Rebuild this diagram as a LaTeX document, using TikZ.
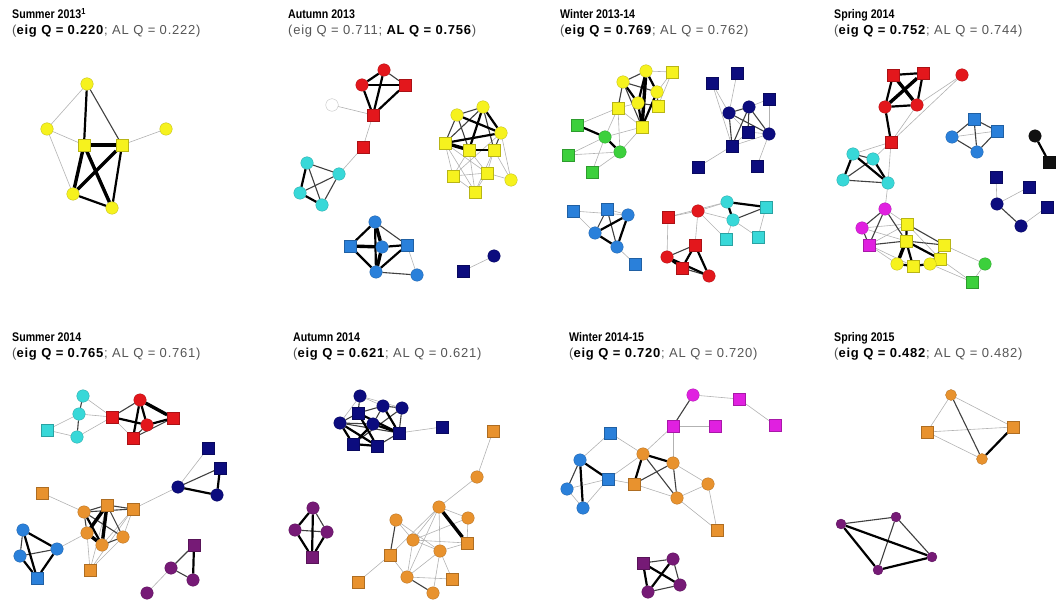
\documentclass[tikz,border=0pt]{standalone}
\usepackage{fontspec}
\setmainfont{Liberation Sans}
\usetikzlibrary{backgrounds}
\definecolor{cY}{HTML}{F6F21E}
\definecolor{cR}{HTML}{E3171C}
\definecolor{cC}{HTML}{38D8D8}
\definecolor{cB}{HTML}{2A80DA}
\definecolor{cN}{HTML}{0C0C7E}
\definecolor{cG}{HTML}{3CD03C}
\definecolor{cM}{HTML}{E020E0}
\definecolor{cO}{HTML}{E8922E}
\definecolor{cP}{HTML}{761A76}
\definecolor{cK}{HTML}{111111}
\definecolor{cW}{HTML}{FFFFFF}
\definecolor{tg}{HTML}{555555}
\tikzset{
 nd/.style={inner sep=0pt, minimum size=12.5pt, draw=#1!75!black, line width=0.3pt, fill=#1},
 ci/.style={nd=#1, circle},
 sq/.style={nd=#1, rectangle, minimum size=11.5pt},
 w1/.style={line width=0.6pt, draw=gray!60},
 w2/.style={line width=1.1pt, draw=black!75},
 w3/.style={line width=2.2pt, draw=black},
 w4/.style={line width=3.4pt, draw=black},
 ttla/.style={anchor=base west, inner sep=0pt, font=\fontsize{12.5}{14}\selectfont\addfontfeatures{FakeStretch=0.85}\bfseries},
 ttlb/.style={anchor=base west, inner sep=0pt, font=\fontsize{13}{15}\selectfont\addfontfeatures{LetterSpace=6}},
}
\begin{document}
\begin{tikzpicture}[x=1pt,y=-1pt]
\useasboundingbox (0,0) rectangle (1059,601);
% ---------- titles ----------
\node[ttla] (t1) at (12,19) {Summer 2013\textsuperscript{1}};
\node[ttlb] (q1) at (12,35) {{\color{tg}(}\textbf{eig Q = 0.220}{\color{tg}; AL Q = 0.222)}};
\node[ttla] (t2) at (288,19) {Autumn 2013};
\node[ttlb] (q2) at (288,35) {{\color{tg}(eig Q = 0.711; }\textbf{AL Q = 0.756}{\color{tg})}};
\node[ttla] (t3) at (560,19) {Winter 2013-14};
\node[ttlb] (q3) at (560,35) {{\color{tg}(}\textbf{eig Q = 0.769}{\color{tg}; AL Q = 0.762)}};
\node[ttla] (t4) at (834,19) {Spring 2014};
\node[ttlb] (q4) at (834,35) {{\color{tg}(}\textbf{eig Q = 0.752}{\color{tg}; AL Q = 0.744)}};
\node[ttla] (t5) at (12,341) {Summer 2014};
\node[ttlb] (q5) at (12,357) {{\color{tg}(}\textbf{eig Q = 0.765}{\color{tg}; AL Q = 0.761)}};
\node[ttla] (t6) at (293,341) {Autumn 2014};
\node[ttlb] (q6) at (293,357) {{\color{tg}(}\textbf{eig Q = 0.621}{\color{tg}; AL Q = 0.621)}};
\node[ttla] (t7) at (569,341) {Winter 2014-15};
\node[ttlb] (q7) at (569,357) {{\color{tg}(}\textbf{eig Q = 0.720}{\color{tg}; AL Q = 0.720)}};
\node[ttla] (t8) at (834,341) {Spring 2015};
\node[ttlb] (q8) at (834,357) {{\color{tg}(}\textbf{eig Q = 0.482}{\color{tg}; AL Q = 0.482)}};
% ---------- panel 1 ----------
\node[ci=cY] (a1) at (87,84) {};
\node[ci=cY] (a2) at (47,129) {};
\node[ci=cY] (a3) at (166,129) {};
\node[sq=cY] (a4) at (84,145) {};
\node[sq=cY] (a5) at (122,145) {};
\node[ci=cY] (a6) at (73,194) {};
\node[ci=cY] (a7) at (112,208) {};
% ---------- panel 2 ----------
\node[ci=cR] (b1) at (384,70) {};
\node[ci=cR] (b2) at (362,85) {};
\node[sq=cR] (b3) at (405,85) {};
\node[sq=cR] (b4) at (373,115) {};
\node[sq=cR] (b5) at (363,147) {};
\node[ci=cW, draw=gray!60] (bw) at (332,105) {};
\node[ci=cC] (b6) at (307,163) {};
\node[ci=cC] (b7) at (339,174) {};
\node[ci=cC] (b8) at (300,193) {};
\node[ci=cC] (b9) at (322,205) {};
\node[ci=cY] (b10) at (457,115) {};
\node[ci=cY] (b11) at (483,107) {};
\node[ci=cY] (b12) at (501,133) {};
\node[sq=cY] (b13) at (445,143) {};
\node[sq=cY] (b14) at (469,150) {};
\node[sq=cY] (b15) at (494,150) {};
\node[sq=cY] (b16) at (453,176) {};
\node[sq=cY] (b17) at (487,173) {};
\node[ci=cY] (b18) at (511,180) {};
\node[sq=cY] (b19) at (475,192) {};
\node[ci=cB] (b20) at (375,222) {};
\node[sq=cB] (b21) at (350,246) {};
\node[ci=cB] (b22) at (382,247) {};
\node[sq=cB] (b23) at (407,245) {};
\node[ci=cB] (b24) at (376,272) {};
\node[ci=cB] (b25) at (417,275) {};
\node[ci=cN] (b26) at (494,256) {};
\node[sq=cN] (b27) at (463,271) {};
% ---------- panel 3 ----------
\node[ci=cY] (c1) at (646,71) {};
\node[sq=cY] (c2) at (672,72) {};
\node[ci=cY] (c3) at (623,82) {};
\node[ci=cY] (c4) at (657,92) {};
\node[ci=cY] (c5) at (638,103) {};
\node[sq=cY] (c6) at (618,108) {};
\node[sq=cY] (c7) at (658,106) {};
\node[sq=cY] (c8) at (642,127) {};
\node[sq=cG] (c9) at (577,125) {};
\node[ci=cG] (c10) at (605,137) {};
\node[ci=cG] (c11) at (620,152) {};
\node[sq=cG] (c12) at (568,155) {};
\node[sq=cG] (c13) at (592,172) {};
\node[sq=cN] (c14) at (737,73) {};
\node[sq=cN] (c15) at (712,83) {};
\node[sq=cN] (c16) at (769,99) {};
\node[ci=cN] (c17) at (749,107) {};
\node[ci=cN] (c18) at (729,113) {};
\node[sq=cN] (c19) at (748,132) {};
\node[ci=cN] (c20) at (769,134) {};
\node[sq=cN] (c21) at (732,146) {};
\node[sq=cN] (c22) at (698,167) {};
\node[sq=cN] (c23) at (757,166) {};
\node[sq=cB] (c24) at (573,211) {};
\node[sq=cB] (c25) at (607,209) {};
\node[ci=cB] (c26) at (628,215) {};
\node[ci=cB] (c27) at (595,233) {};
\node[ci=cB] (c28) at (617,247) {};
\node[sq=cB] (c29) at (635,264) {};
\node[sq=cR] (c30) at (668,217) {};
\node[ci=cR] (c31) at (698,211) {};
\node[sq=cR] (c32) at (695,245) {};
\node[ci=cR] (c33) at (667,257) {};
\node[sq=cR] (c34) at (682,268) {};
\node[ci=cR] (c35) at (709,276) {};
\node[ci=cC] (c36) at (727,202) {};
\node[sq=cC] (c37) at (766,207) {};
\node[ci=cC] (c38) at (733,220) {};
\node[sq=cC] (c39) at (726,239) {};
\node[sq=cC] (c40) at (758,237) {};
% ---------- panel 4 ----------
\node[sq=cR] (d1) at (893,75) {};
\node[sq=cR] (d2) at (923,73) {};
\node[ci=cR] (d3) at (962,75) {};
\node[ci=cR] (d4) at (885,107) {};
\node[ci=cR] (d5) at (917,105) {};
\node[sq=cR] (d6) at (891,142) {};
\node[sq=cB] (d7) at (974,119) {};
\node[sq=cB] (d8) at (997,131) {};
\node[ci=cB] (d9) at (952,137) {};
\node[ci=cB] (d10) at (977,152) {};
\node[ci=cK] (d11) at (1035,136) {};
\node[sq=cK] (d12) at (1049,162) {};
\node[ci=cC] (d13) at (853,154) {};
\node[ci=cC] (d14) at (873,159) {};
\node[ci=cC] (d15) at (843,180) {};
\node[ci=cC] (d16) at (888,183) {};
\node[sq=cN] (d17) at (996,177) {};
\node[sq=cN] (d18) at (1029,187) {};
\node[ci=cN] (d19) at (997,204) {};
\node[sq=cN] (d20) at (1047,207) {};
\node[ci=cN] (d21) at (1021,226) {};
\node[ci=cM] (d22) at (885,209) {};
\node[ci=cM] (d23) at (862,228) {};
\node[sq=cM] (d24) at (869,245) {};
\node[sq=cY] (d25) at (907,224) {};
\node[sq=cY] (d26) at (906,241) {};
\node[sq=cY] (d27) at (944,245) {};
\node[ci=cY] (d28) at (897,264) {};
\node[sq=cY] (d29) at (913,266) {};
\node[sq=cY] (d30) at (940,259) {};
\node[ci=cY] (d31) at (930,264) {};
\node[ci=cG] (d32) at (985,264) {};
\node[sq=cG] (d33) at (972,282) {};
% ---------- panel 5 ----------
\node[ci=cC] (e1) at (83,396) {};
\node[ci=cC] (e2) at (79,414) {};
\node[sq=cC] (e3) at (47,430) {};
\node[ci=cC] (e4) at (77,437) {};
\node[sq=cR] (e5) at (112,417) {};
\node[ci=cR] (e6) at (140,400) {};
\node[sq=cR] (e7) at (173,418) {};
\node[ci=cR] (e8) at (147,425) {};
\node[sq=cR] (e9) at (133,438) {};
\node[sq=cN] (e10) at (208,448) {};
\node[sq=cN] (e11) at (220,468) {};
\node[ci=cN] (e12) at (178,487) {};
\node[ci=cN] (e13) at (217,495) {};
\node[sq=cO] (e14) at (42,493) {};
\node[ci=cO] (e15) at (84,512) {};
\node[sq=cO] (e16) at (107,505) {};
\node[sq=cO] (e17) at (133,509) {};
\node[ci=cO] (e18) at (87,533) {};
\node[ci=cO] (e19) at (102,545) {};
\node[ci=cO] (e20) at (123,537) {};
\node[sq=cO] (e21) at (90,570) {};
\node[ci=cB] (e22) at (23,530) {};
\node[ci=cB] (e23) at (57,549) {};
\node[ci=cB] (e24) at (20,556) {};
\node[sq=cB] (e25) at (37,578) {};
\node[sq=cP] (e26) at (194,545) {};
\node[ci=cP] (e27) at (171,568) {};
\node[ci=cP] (e28) at (193,580) {};
\node[ci=cP] (e29) at (147,593) {};
% ---------- panel 6 ----------
\node[ci=cN] (f1) at (360,396) {};
\node[ci=cN] (f2) at (383,406) {};
\node[sq=cN] (f3) at (358,413) {};
\node[ci=cN] (f4) at (402,408) {};
\node[ci=cN] (f5) at (340,423) {};
\node[sq=cN] (f6) at (399,433) {};
\node[sq=cN] (f7) at (353,444) {};
\node[sq=cN] (f8) at (377,446) {};
\node[sq=cN] (f9) at (442,427) {};
\node[ci=cN] (f10) at (373,424) {};
\node[sq=cO] (f11) at (493,431) {};
\node[ci=cO] (f12) at (477,477) {};
\node[ci=cO] (f13) at (439,507) {};
\node[ci=cO] (f14) at (396,520) {};
\node[ci=cO] (f15) at (468,518) {};
\node[ci=cO] (f16) at (413,540) {};
\node[ci=cO] (f17) at (440,551) {};
\node[sq=cO] (f18) at (467,543) {};
\node[sq=cO] (f19) at (390,555) {};
\node[ci=cO] (f20) at (407,577) {};
\node[sq=cO] (f21) at (452,579) {};
\node[sq=cO] (f22) at (358,582) {};
\node[ci=cO] (f23) at (433,593) {};
\node[ci=cP] (f24) at (313,508) {};
\node[ci=cP] (f25) at (295,530) {};
\node[ci=cP] (f26) at (327,532) {};
\node[sq=cP] (f27) at (312,557) {};
% ---------- panel 7 ----------
\node[ci=cM] (g1) at (693,395) {};
\node[sq=cM] (g2) at (739,399) {};
\node[sq=cM] (g3) at (673,426) {};
\node[sq=cM] (g4) at (715,426) {};
\node[sq=cM] (g5) at (775,425) {};
\node[sq=cB] (g6) at (610,433) {};
\node[ci=cB] (g7) at (580,460) {};
\node[sq=cB] (g8) at (608,479) {};
\node[ci=cB] (g9) at (567,489) {};
\node[ci=cB] (g10) at (583,508) {};
\node[ci=cO] (g11) at (643,454) {};
\node[ci=cO] (g12) at (673,463) {};
\node[sq=cO] (g13) at (634,484) {};
\node[ci=cO] (g14) at (708,484) {};
\node[ci=cO] (g15) at (677,498) {};
\node[sq=cO] (g16) at (717,530) {};
\node[sq=cP] (g17) at (643,563) {};
\node[ci=cP] (g18) at (673,559) {};
\node[ci=cP] (g19) at (680,585) {};
\node[ci=cP] (g20) at (648,592) {};
% ---------- panel 8 ----------
\node[ci=cO, minimum size=11pt] (h1) at (951,395) {};
\node[sq=cO] (h2) at (927,432) {};
\node[sq=cO] (h3) at (1013,427) {};
\node[ci=cO, minimum size=11pt] (h4) at (982,459) {};
\node[ci=cP, minimum size=10pt] (h5) at (841,524) {};
\node[ci=cP, minimum size=10pt] (h6) at (896,517) {};
\node[ci=cP, minimum size=10pt] (h7) at (932,557) {};
\node[ci=cP, minimum size=10pt] (h8) at (878,570) {};
% ---------- edges ----------
\begin{scope}[on background layer]
\foreach \u/\v in {a1/a2,a2/a4,a2/a6,a3/a5,
  b4/bw,b4/b5,b5/b7,b13/b16,b13/b17,b14/b16,b14/b17,b14/b19,b15/b17,b15/b18,b16/b17,b17/b18,b17/b19,b16/b19,b12/b18,b15/b19,b12/b16,b13/b19,b23/b25,b26/b27,
  c1/c2,c2/c7,c6/c5,c6/c8,c2/c4,c10/c12,c10/c13,c10/c6,c11/c6,c11/c8,c12/c11,c13/c11,c10/c8,c9/c6,
  c14/c18,c15/c18,c16/c17,c18/c19,c19/c20,c20/c21,c20/c23,c21/c22,c16/c20,c19/c21,c15/c21,
  c24/c27,c25/c26,c28/c29,c24/c26,c30/c31,c30/c33,c31/c32,c38/c39,c38/c40,c31/c36,c31/c38,c31/c39,c30/c36,c37/c40,
  d5/d6,d3/d5,d3/d6,d8/d9,d6/d13,d6/d16,d17/d19,d18/d19,d20/d21,d16/d22,d23/d25,d24/d25,d25/d30,d27/d32,d32/d33,d30/d33,d31/d33,d14/d6,d22/d25,d23/d26,d24/d29,d28/d24,
  e3/e2,e3/e4,e1/e5,e2/e5,e4/e5,e5/e9,e10/e12,e14/e15,e17/e19,e17/e20,e17/e21,e18/e21,e17/e12,e23/e18,e27/e29,e16/e21,e20/e21,
  f1/f2,f1/f5,f1/f4,f6/f9,f11/f12,f12/f13,f13/f15,f13/f17,f13/f16,f13/f19,f13/f20,f15/f18,f14/f16,f16/f17,f16/f18,f17/f18,f17/f20,f17/f21,f17/f23,f19/f22,f20/f16,f19/f20,f14/f17,f16/f15,f20/f21,
  g1/g2,g3/g4,g2/g5,g6/g7,g8/g9,g8/g10,g9/g10,g6/g11,g8/g11,g8/g13,g12/g14,g14/g15,g15/g16,g12/g3,g11/g3,g13/g15,g14/g16,
  h1/h2,h1/h3,h2/h3,h2/h4}
  \draw[w1] (\u) -- (\v);
\foreach \u/\v in {a1/a5,
  b1/b3,b6/b7,b6/b9,b7/b8,b7/b9,b10/b11,b11/b13,b10/b13,b11/b15,b12/b15,b10/b14,b20/b23,b24/b25,
  c1/c3,c3/c6,c4/c7,c3/c4,c5/c7,c3/c8,c17/c18,c17/c19,c17/c20,c17/c21,c18/c21,c18/c20,c25/c27,c25/c28,c32/c33,c34/c35,c37/c38,
  d7/d8,d7/d9,d7/d10,d8/d10,d9/d10,d13/d14,d14/d15,d15/d16,d19/d21,d22/d23,d22/d24,d23/d24,d22/d26,d24/d26,d25/d27,d26/d27,d27/d31,d30/d31,
  e1/e2,e2/e4,e5/e6,e7/e9,e8/e9,e11/e12,e15/e16,e15/e17,e15/e18,e16/e17,e16/e20,e19/e20,e15/e20,e22/e24,e23/e24,e26/e27,e27/e28,
  f1/f3,f2/f4,f2/f3,f3/f5,f5/f6,f8/f6,f4/f6,f10/f2,f10/f5,f4/f7,f14/f19,f20/f23,f24/f26,f25/f26,
  g1/g3,g7/g9,g11/g15,g12/g13,g12/g15,g17/g18,g18/g19,g19/g20,
  h1/h4,h5/h6,h6/h7,h6/h8}
  \draw[w2] (\u) -- (\v);
\foreach \u/\v in {a1/a4,a6/a7,a5/a7,
  b1/b2,b1/b4,b2/b3,b2/b4,b3/b4,b6/b8,b8/b9,b10/b12,b11/b12,b13/b12,b14/b15,b11/b14,b20/b21,b21/b24,b22/b23,b23/b24,b20/b24,
  c1/c4,c1/c5,c3/c5,c4/c8,c5/c8,c9/c10,c10/c11,c26/c27,c26/c28,c27/c28,c32/c34,c32/c35,c33/c34,c33/c35,c36/c37,c36/c38,
  d1/d2,d1/d4,d2/d5,d4/d5,d4/d6,d11/d12,d13/d15,d13/d16,d14/d16,d25/d26,d26/d29,d28/d29,d26/d30,d29/d31,
  e5/e8,e6/e8,e6/e9,e7/e8,e11/e13,e12/e13,e15/e19,e22/e23,e22/e25,e23/e25,e24/e25,e26/e28,
  f2/f6,f3/f6,f3/f8,f5/f7,f5/f8,f7/f8,f10/f7,f10/f6,f24/f25,f24/f27,f25/f27,f26/f27,
  g7/g8,g7/g10,g11/g13,g11/g12,g17/g19,g17/g20,g18/g20,
  h3/h4,h5/h7,h5/h8,h7/h8}
  \draw[w3] (\u) -- (\v);
\foreach \u/\v in {a4/a5,a4/a6,a4/a7,a5/a6,
  b13/b14,b20/b22,b21/b22,b22/b24,
  c1/c8,d1/d5,d2/d4,d26/d28,
  e6/e7,e16/e18,e16/e19,e18/e19,f13/f18}
  \draw[w4] (\u) -- (\v);
\end{scope}
\end{tikzpicture}
\end{document}
